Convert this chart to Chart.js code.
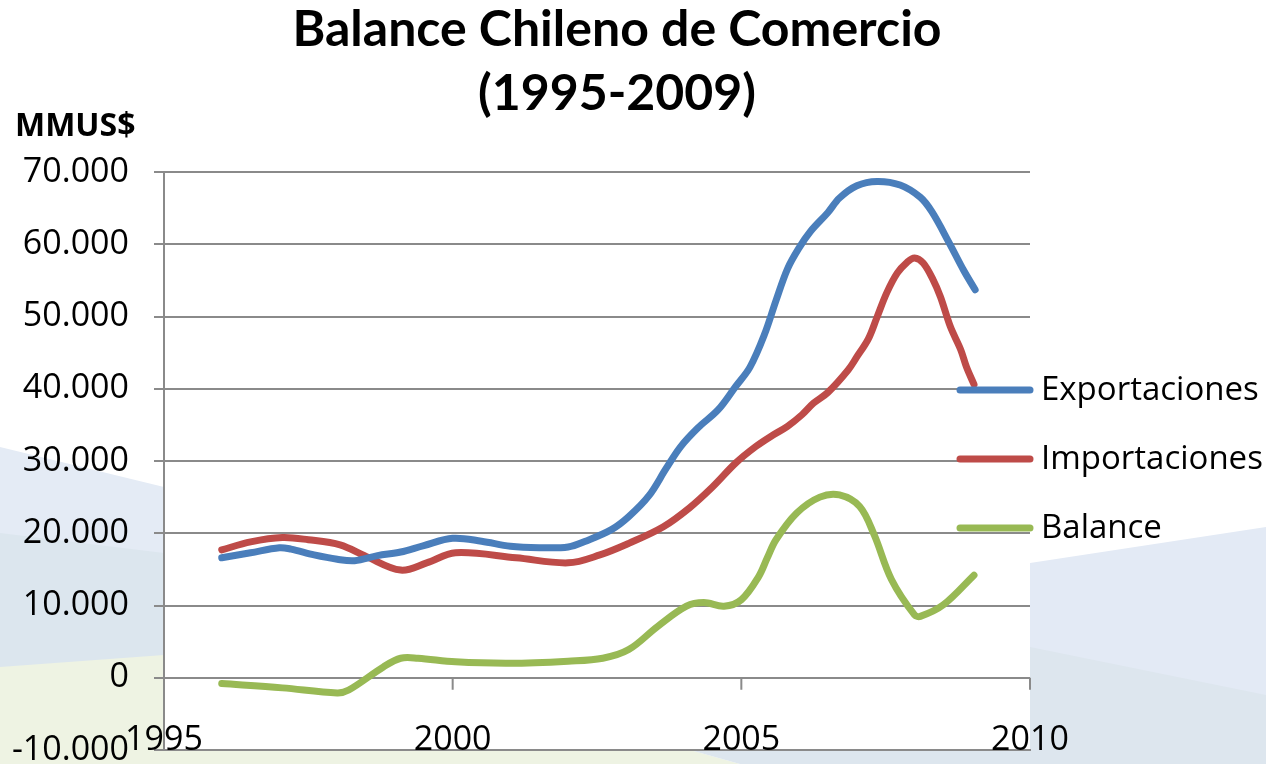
<!DOCTYPE html>
<html><head><meta charset="utf-8">
<script src="https://cdn.jsdelivr.net/npm/chart.js@4.4.1/dist/chart.umd.min.js"></script>
<style>html,body{margin:0;padding:0;background:#fff;}#wrap{width:1266px;height:764px;position:relative;}</style>
</head><body><div id="wrap"><canvas id="c" width="1266" height="764"></canvas></div>
<script>
const titleLines = ['Balance Chileno de Comercio', '(1995-2009)'];
const unitLabel = 'MMUS$';
const seriesNames = ['Exportaciones', 'Importaciones', 'Balance'];
const seriesColors = ['#4a7ebb', '#be4b48', '#98b954'];
const xTickValues = [1995, 2000, 2005, 2010];
const yTickValues = [-10000, 0, 10000, 20000, 30000, 40000, 50000, 60000, 70000];

const expYears  = [1996.0, 1996.5, 1997.0, 1997.2, 1997.6, 1998.0, 1998.3, 1998.7, 1999.1, 1999.5, 2000.0, 2000.5, 2001.0, 2001.5, 2002.0, 2002.3, 2002.75, 2003.05, 2003.4, 2003.7, 2003.95, 2004.25, 2004.6, 2004.9, 2005.15, 2005.4, 2005.6, 2005.8, 2006.0, 2006.2, 2006.5, 2006.7, 2007.0, 2007.35, 2007.75, 2008.1, 2008.3, 2008.6, 2008.85, 2009.05];
const expValues = [16600, 17300, 18000, 17800, 17000, 16400, 16200, 16900, 17400, 18300, 19300, 18900, 18200, 18000, 18100, 18900, 20500, 22300, 25200, 29000, 32000, 34600, 37100, 40300, 43000, 47500, 52200, 56600, 59500, 61800, 64400, 66400, 68100, 68700, 68200, 66500, 64500, 60200, 56400, 53700];

const impYears  = [1996.0, 1996.5, 1997.05, 1997.5, 1998.05, 1998.5, 1999.1, 1999.55, 2000.05, 2001.1, 2002.0, 2002.55, 2003.05, 2003.65, 2004.1, 2004.5, 2004.9, 2005.25, 2005.55, 2005.8, 2006.05, 2006.25, 2006.5, 2006.85, 2007.0, 2007.2, 2007.35, 2007.52, 2007.7, 2007.87, 2008.0, 2008.15, 2008.32, 2008.45, 2008.62, 2008.8, 2008.9, 2009.03];
const impValues = [17700, 18800, 19400, 19100, 18400, 16800, 14900, 15900, 17300, 16600, 15900, 17000, 18600, 20900, 23500, 26400, 29700, 32000, 33600, 34800, 36400, 38000, 39500, 42600, 44400, 46900, 49900, 53300, 56000, 57500, 58100, 57400, 55100, 52700, 48600, 45400, 43000, 40600];

const balYears  = [1996.0, 1997.05, 1998.0, 1998.2, 1998.8, 1999.1, 1999.4, 2000.05, 2001.0, 2002.0, 2002.6, 2003.05, 2003.55, 2004.05, 2004.35, 2004.7, 2005.0, 2005.3, 2005.45, 2005.6, 2005.96, 2006.36, 2006.7, 2007.05, 2007.3, 2007.6, 2008.0, 2008.1, 2008.5, 2009.03];
const balValues = [-800, -1400, -2100, -1700, 1500, 2700, 2700, 2200, 2000, 2300, 2700, 3900, 7100, 9900, 10400, 9900, 10800, 14000, 16600, 19100, 22800, 25000, 25300, 23700, 19800, 13600, 8700, 8500, 10100, 14200];

const pairs = (xs, ys) => xs.map((x, i) => ({x: x, y: ys[i]}));
const seriesData = [pairs(expYears, expValues), pairs(impYears, impValues), pairs(balYears, balValues)];

const BODY_FONT = "'Open Sans', 'DejaVu Sans', sans-serif";
const GRID = '#8a8a8a';

const backdrop = {
  id: 'backdrop',
  beforeDraw(chart) {
    const {ctx, chartArea: a, width: W, height: H} = chart;
    ctx.save();
    ctx.fillStyle = '#ffffff'; ctx.fillRect(0, 0, W, H);
    const poly = (pts, col) => { ctx.beginPath(); pts.forEach((p, i) => i ? ctx.lineTo(p[0], p[1]) : ctx.moveTo(p[0], p[1])); ctx.closePath(); ctx.fillStyle = col; ctx.fill(); };
    // left strip
    poly([[0, 447], [a.left, 487], [a.left, H], [0, H]], '#e4ebf5');
    poly([[0, 533], [a.left, 553], [a.left, H], [0, H]], '#dce6ee');
    poly([[0, 667], [a.left, 655], [a.left, H], [0, H]], '#eef3e3');
    // right strip
    poly([[a.right, 563], [W, 527], [W, H], [a.right, H]], '#e3eaf5');
    poly([[a.right, 647], [W, 695], [W, H], [a.right, H]], '#dde6ee');
    // bottom strip
    poly([[0, a.bottom], [690, a.bottom], [740, H], [0, H]], '#eef3e3');
    poly([[690, a.bottom], [W, a.bottom], [W, H], [740, H]], '#dde6ee');
    // plot area
    ctx.fillStyle = '#ffffff';
    ctx.fillRect(a.left, a.top, a.right - a.left, a.bottom - a.top);
    ctx.restore();
  }
};

const extras = {
  id: 'extras',
  afterDraw(chart) {
    const {ctx, scales: {x, y}} = chart;
    ctx.save();
    // tick marks on the zero line
    const y0 = y.getPixelForValue(0);
    ctx.strokeStyle = GRID; ctx.lineWidth = 2;
    xTickValues.forEach(v => {
      const px = x.getPixelForValue(v);
      ctx.beginPath(); ctx.moveTo(px, y0); ctx.lineTo(px, y0 + 12); ctx.stroke();
    });
    // unit label
    ctx.fillStyle = '#000';
    ctx.font = "bold 32px " + BODY_FONT;
    ctx.textAlign = 'left'; ctx.textBaseline = 'middle';
    ctx.fillText(unitLabel, 15, 127);
    // legend
    ctx.font = "33px " + BODY_FONT;
    seriesNames.forEach((name, i) => {
      const ry = 390 + i * 69;
      ctx.strokeStyle = seriesColors[i]; ctx.lineWidth = 7; ctx.lineCap = 'round';
      ctx.beginPath(); ctx.moveTo(960, ry); ctx.lineTo(1030, ry); ctx.stroke();
      ctx.fillStyle = '#000';
      ctx.fillText(name, 1041, ry + 1);
    });
    ctx.restore();
  }
};

new Chart(document.getElementById('c'), {
  type: 'line',
  data: {
    datasets: seriesNames.map((name, i) => ({
      label: name,
      data: seriesData[i],
      borderColor: seriesColors[i],
      backgroundColor: seriesColors[i],
      borderWidth: 7,
      pointRadius: 0,
      borderCapStyle: 'round',
      borderJoinStyle: 'round',
      tension: 0.35,
      fill: false
    }))
  },
  options: {
    responsive: false,
    animation: false,
    devicePixelRatio: 1,
    layout: {padding: {left: 0, right: 32, top: 0, bottom: 0}},
    plugins: {
      legend: {display: false},
      tooltip: {enabled: false},
      title: {
        display: true,
        text: titleLines,
        color: '#000',
        font: {family: "Lato, 'Open Sans', sans-serif", weight: 'bold', size: 50, lineHeight: '64px'},
        padding: {top: -2, bottom: 46}
      }
    },
    scales: {
      x: {
        type: 'linear',
        min: 1995, max: 2010,
        afterBuildTicks: s => { s.ticks = xTickValues.map(v => ({value: v})); },
        afterFit: s => { s.height = 14; },
        grid: {display: false, drawTicks: false},
        border: {display: true, color: GRID, width: 2},
        ticks: {
          mirror: true,
          padding: -11,
          color: '#000',
          maxRotation: 0,
          autoSkip: false,
          font: {family: BODY_FONT, size: 34},
          callback: v => String(v)
        }
      },
      y: {
        min: -10000, max: 70000,
        afterBuildTicks: s => { s.ticks = yTickValues.map(v => ({value: v})); },
        afterFit: s => { s.width = 164; s.paddingBottom = 0; },
        grid: {color: GRID, lineWidth: 2, tickLength: 10, drawTicks: true},
        border: {display: true, color: GRID, width: 2},
        ticks: {
          padding: 25,
          color: '#000',
          font: {family: BODY_FONT, size: 34},
          callback: v => Number(v).toLocaleString('de-DE')
        }
      },
      legendSpace: {
        type: 'linear',
        position: 'right',
        display: true,
        grid: {display: false, drawOnChartArea: false, drawTicks: false},
        border: {display: false},
        ticks: {display: false},
        afterFit: s => { s.width = 204; s.paddingTop = 0; s.paddingBottom = 0; }
      }
    }
  },
  plugins: [backdrop, extras]
});
</script>
</body></html>
